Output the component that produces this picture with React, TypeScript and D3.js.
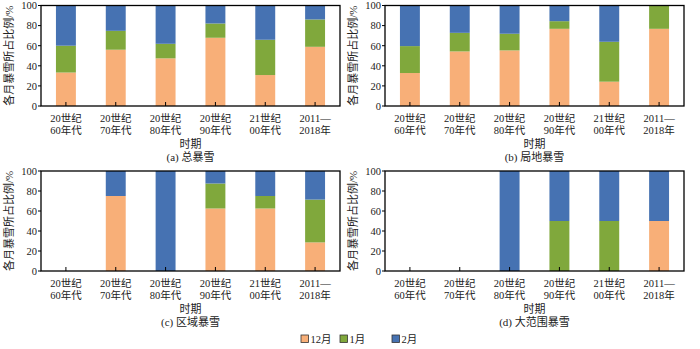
import React from "react";
import * as d3 from "d3";

const periods = [
  ["20世纪", "60年代"],
  ["20世纪", "70年代"],
  ["20世纪", "80年代"],
  ["20世纪", "90年代"],
  ["21世纪", "00年代"],
  ["2011—", "2018年"],
];
const seriesNames = ["12月", "1月", "2月"];
const seriesColors = ["#F8AF78", "#80A83C", "#4672B2"];
const yTicks = [0, 20, 40, 60, 80, 100];

// percentages per period: [Dec, Jan, Feb]
const totalDec = [33.3, 56, 47.4, 67.9, 30.8, 58.9];
const totalJan = [26.7, 18.8, 14.5, 14.2, 35.1, 27.2];
const totalFeb = [40, 25.2, 38.1, 17.9, 34.1, 13.9];

const localDec = [32.8, 54.3, 55.3, 76.8, 24.2, 76.8];
const localJan = [26.8, 18.5, 16.6, 7.6, 39.7, 23.2];
const localFeb = [40.4, 27.2, 28.1, 15.6, 36.1, 0];

const regionDec = [0, 75, 0, 62.5, 62.5, 28.6];
const regionJan = [0, 0, 0, 25, 12.5, 42.8];
const regionFeb = [0, 25, 100, 12.5, 25, 28.6];

const wideDec = [0, 0, 0, 0, 0, 50];
const wideJan = [0, 0, 0, 50, 50, 0];
const wideFeb = [0, 0, 100, 50, 50, 50];

const panels = [
  { caption: "(a) 总暴雪", data: [totalDec, totalJan, totalFeb], x0: 41, x1: 340, y0: 5.5, y1: 106 },
  { caption: "(b) 局地暴雪", data: [localDec, localJan, localFeb], x0: 385, x1: 684, y0: 5.5, y1: 106 },
  { caption: "(c) 区域暴雪", data: [regionDec, regionJan, regionFeb], x0: 41, x1: 340, y0: 171, y1: 271 },
  { caption: "(d) 大范围暴雪", data: [wideDec, wideJan, wideFeb], x0: 385, x1: 684, y0: 171, y1: 271 },
];

const FONT = "'Liberation Serif', 'Times New Roman', 'Noto Sans CJK SC', serif";

function Panel({ p }: { p: (typeof panels)[number] }) {
  const x = d3
    .scaleBand<number>()
    .domain(d3.range(periods.length))
    .range([p.x0, p.x1])
    .paddingInner(0.6)
    .paddingOuter(0.3);
  const y = d3.scaleLinear().domain([0, 100]).range([p.y1, p.y0]);
  const rows = d3.range(periods.length).map((i) => {
    const r: any = { i };
    seriesNames.forEach((s, k) => (r[s] = p.data[k][i]));
    return r;
  });
  const stacked = d3.stack<any>().keys(seriesNames)(rows);
  const bw = x.bandwidth();
  return (
    <g>
      {stacked.map((layer, k) =>
        layer.map((d, i) =>
          d[1] - d[0] > 0 ? (
            <rect
              key={`${k}-${i}`}
              x={x(i)!}
              width={bw}
              y={y(d[1])}
              height={y(d[0]) - y(d[1])}
              fill={seriesColors[k]}
            />
          ) : null
        )
      )}
      <rect x={p.x0} y={p.y0} width={p.x1 - p.x0} height={p.y1 - p.y0} fill="none" stroke="#000" strokeWidth={1.3} />
      {yTicks.map((t) => (
        <g key={t}>
          <line x1={p.x0 - 3} x2={p.x0} y1={y(t)} y2={y(t)} stroke="#000" strokeWidth={1} />
          <text x={p.x0 - 4} y={y(t) + 3.8} textAnchor="end" fontSize={10.5} fontFamily={FONT} fill="#222">
            {t}
          </text>
        </g>
      ))}
      {periods.map((lab, i) => {
        const cx = x(i)! + bw / 2;
        return (
          <g key={i}>
            <line x1={cx} x2={cx} y1={p.y1} y2={p.y1 - 4} stroke="#000" strokeWidth={1} />
            <text x={cx} y={p.y1 + 16} textAnchor="middle" fontSize={10.5} fontFamily={FONT} fill="#222">
              {lab[0]}
            </text>
            <text x={cx} y={p.y1 + 28} textAnchor="middle" fontSize={10.5} fontFamily={FONT} fill="#222">
              {lab[1]}
            </text>
          </g>
        );
      })}
      <text x={(p.x0 + p.x1) / 2} y={p.y1 + 42} textAnchor="middle" fontSize={11} fontFamily={FONT} fill="#222">
        时期
      </text>
      <text x={(p.x0 + p.x1) / 2} y={p.y1 + 55} textAnchor="middle" fontSize={11} fontFamily={FONT} fill="#222">
        {p.caption}
      </text>
      <text
        transform={`translate(${p.x0 - 28},${(p.y0 + p.y1) / 2}) rotate(-90)`}
        textAnchor="middle"
        fontSize={11}
        fontFamily={FONT}
        fill="#222"
      >
        各月暴雪所占比例/%
      </text>
    </g>
  );
}

export default function App() {
  const legendX = [301, 340, 392];
  return (
    <svg width={700} height={349} style={{ position: "absolute", left: 0, top: 0, background: "#fff" }}>
      {panels.map((p, i) => (
        <Panel key={i} p={p} />
      ))}
      {seriesNames.map((s, k) => (
        <g key={s}>
          <rect x={legendX[k]} y={335} width={7.5} height={7.5} fill={seriesColors[k]} stroke="#333" strokeWidth={0.8} />
          <text x={legendX[k] + 9.5} y={343} fontSize={10.5} fontFamily={FONT} fill="#222">
            {s}
          </text>
        </g>
      ))}
    </svg>
  );
}
